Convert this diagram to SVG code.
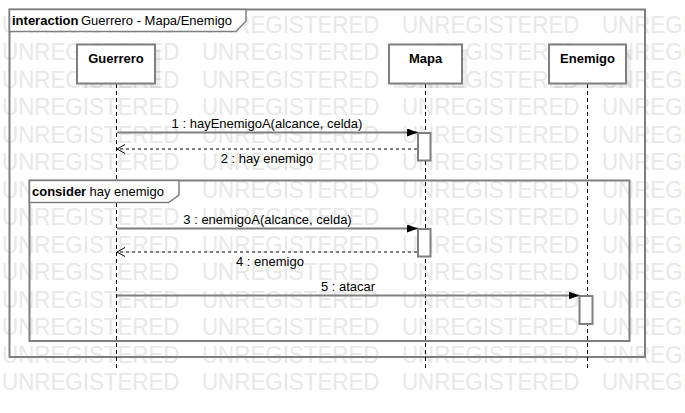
<svg xmlns="http://www.w3.org/2000/svg" xmlns:xlink="http://www.w3.org/1999/xlink" width="685" height="413" viewBox="0 0 685 413">
<style>
.wm{font-family:"Liberation Sans",Arial,sans-serif;font-size:23.5px;fill:#e8e8e8}
.frame{fill:none;stroke:#7f7f7f;stroke-width:2}
.tab{fill:#fff;stroke:#7f7f7f;stroke-width:1.5}
.box{fill:#fff;stroke:#7f7f7f;stroke-width:2}
.shadow{fill:#000;fill-opacity:0.07}
.act{fill:#fff;stroke:#7f7f7f;stroke-width:2}
.life{stroke:#000;stroke-width:1;stroke-dasharray:4 3;fill:none}
.msg{stroke:#7f7f7f;stroke-width:2;fill:none}
.ret{stroke:#7f7f7f;stroke-width:2;stroke-dasharray:3 3;fill:none}
.lbl{font-family:"Liberation Sans",Arial,sans-serif;font-size:13px;fill:#000}
.b{font-weight:bold}
</style>
<defs>
<marker id="filled" viewBox="0 0 11 8" refX="11" refY="4" markerWidth="11" markerHeight="8" markerUnits="userSpaceOnUse" orient="auto">
<path d="M0,0 L11,4 L0,8 Z" fill="#000"/>
</marker>
<marker id="open" viewBox="0 0 9 10" refX="8.5" refY="5" markerWidth="9" markerHeight="10" markerUnits="userSpaceOnUse" orient="auto">
<path d="M0.5,0.5 L8.5,5 L0.5,9.5" fill="none" stroke="#000" stroke-width="1"/>
</marker>
<g id="wmrow"><g transform="scale(0.951,1)"><text class="wm"><tspan x="2.1" y="0">UNREGISTERED</tspan><tspan x="212.4" y="0">UNREGISTERED</tspan><tspan x="422.7" y="0">UNREGISTERED</tspan><tspan x="633" y="0">UNREGISTERED</tspan></text></g></g>
</defs>
<rect width="685" height="413" fill="#fff"/>
<g id="watermark">
<use xlink:href="#wmrow" y="32.5"/>
<use xlink:href="#wmrow" y="60"/>
<use xlink:href="#wmrow" y="87.5"/>
<use xlink:href="#wmrow" y="115"/>
<use xlink:href="#wmrow" y="142.5"/>
<use xlink:href="#wmrow" y="170"/>
<use xlink:href="#wmrow" y="197.5"/>
<use xlink:href="#wmrow" y="225"/>
<use xlink:href="#wmrow" y="252.5"/>
<use xlink:href="#wmrow" y="280"/>
<use xlink:href="#wmrow" y="307.5"/>
<use xlink:href="#wmrow" y="335"/>
<use xlink:href="#wmrow" y="362.5"/>
<use xlink:href="#wmrow" y="390"/>
</g>
<g id="frame-interaction">
<rect class="frame" x="9.5" y="9.5" width="635.5" height="347.5"/>
<path class="tab" d="M9.5,9.5 H246 V21 L236,31.5 H9.5 Z"/>
<text class="lbl" x="12" y="25"><tspan class="b">interaction</tspan><tspan x="81">Guerrero - Mapa/Enemigo</tspan></text>
</g>
<g id="lifelines">
<line class="life" x1="116.5" y1="84" x2="116.5" y2="370"/>
<line class="life" x1="425.5" y1="84" x2="425.5" y2="370"/>
<line class="life" x1="587.5" y1="84" x2="587.5" y2="370"/>
</g>
<g id="Guerrero">
<rect class="shadow" x="82" y="49" width="78" height="39"/>
<rect class="box" x="77" y="44.5" width="78" height="39"/>
<text class="lbl b" x="116" y="63" text-anchor="middle">Guerrero</text>
</g>
<g id="Mapa">
<rect class="shadow" x="394" y="49" width="73" height="39"/>
<rect class="box" x="389" y="44.5" width="73" height="39"/>
<text class="lbl b" x="425.5" y="63" text-anchor="middle">Mapa</text>
</g>
<g id="Enemigo">
<rect class="shadow" x="554" y="49" width="77" height="39"/>
<rect class="box" x="549" y="44.5" width="77" height="39"/>
<text class="lbl b" x="587.5" y="63" text-anchor="middle">Enemigo</text>
</g>
<g id="frame-consider">
<rect class="frame" x="29.5" y="180.5" width="600" height="160.5"/>
<path class="tab" d="M29.5,180.5 H179 V195 L168.5,202.5 H29.5 Z"/>
<text class="lbl" x="32" y="196"><tspan class="b">consider</tspan><tspan x="89.5">hay enemigo</tspan></text>
</g>
<g id="activations">
<rect class="act" x="418" y="133" width="12.5" height="27.5"/>
<rect class="act" x="418" y="229" width="12.5" height="27.5"/>
<rect class="act" x="579.5" y="296" width="13" height="28"/>
</g>
<g id="connectors">
<line class="msg" x1="117" y1="132.5" x2="418" y2="132.5" marker-end="url(#filled)"/>
<text class="lbl" x="267" y="127.5" text-anchor="middle">1 : hayEnemigoA(alcance, celda)</text>
<line class="ret" x1="417" y1="149" x2="117" y2="149" marker-end="url(#open)"/>
<text class="lbl" x="267" y="163" text-anchor="middle">2 : hay enemigo</text>
<line class="msg" x1="117" y1="228.5" x2="418" y2="228.5" marker-end="url(#filled)"/>
<text class="lbl" x="267.5" y="223.5" text-anchor="middle">3 : enemigoA(alcance, celda)</text>
<line class="ret" x1="417" y1="252" x2="117" y2="252" marker-end="url(#open)"/>
<text class="lbl" x="270" y="266" text-anchor="middle">4 : enemigo</text>
<line class="msg" x1="117" y1="295.5" x2="579.5" y2="295.5" marker-end="url(#filled)"/>
<text class="lbl" x="348" y="290.5" text-anchor="middle">5 : atacar</text>
</g>
</svg>
